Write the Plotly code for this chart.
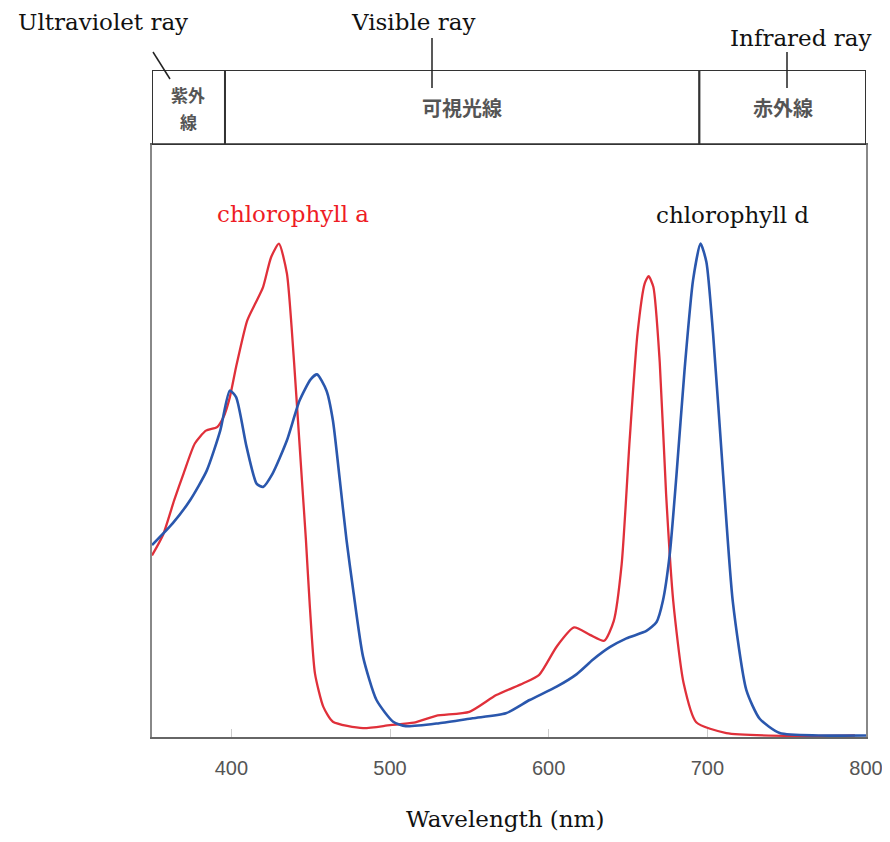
import plotly.graph_objects as go

# ---- data ----
wl_a = [350, 357, 364, 370, 377, 384, 391, 395, 399, 403, 410, 415, 420, 425, 430, 435, 438, 441,
        444.5, 447, 449.5, 452.7, 458, 464, 483, 500, 515, 529, 550, 567, 584, 594, 605, 616, 626,
        635, 641, 646, 651, 656, 660.5, 663, 666, 670, 674, 678.5, 685, 693, 712, 754, 793]
abs_a = [0.368, 0.41, 0.48, 0.535, 0.595, 0.621, 0.628, 0.648, 0.688, 0.75, 0.844, 0.878, 0.912,
         0.972, 1.0, 0.94, 0.83, 0.69, 0.52, 0.40, 0.264, 0.129, 0.061, 0.031, 0.018, 0.024, 0.029,
         0.043, 0.051, 0.085, 0.109, 0.126, 0.183, 0.222, 0.207, 0.195, 0.235, 0.35, 0.6, 0.818,
         0.919, 0.934, 0.912, 0.76, 0.493, 0.276, 0.11, 0.03, 0.008, 0.002, 0.003]

wl_d = [350, 363, 374, 384.5, 393, 399, 403, 409.6, 416, 420, 426, 435, 443, 450, 454, 460, 464,
        468.4, 472.6, 476.8, 483, 491.5, 502, 510, 531, 552, 573, 588, 605, 617.5, 628, 638.5, 649,
        661.6, 668, 672, 676.3, 680.5, 685.7, 691, 695.7, 699.4, 703.6, 710, 716, 724.6, 733, 745.6,
        770, 800]
abs_d = [0.389, 0.433, 0.48, 0.54, 0.621, 0.702, 0.689, 0.588, 0.513, 0.507, 0.534, 0.601, 0.682,
         0.725, 0.735, 0.702, 0.642, 0.52, 0.399, 0.298, 0.163, 0.075, 0.031, 0.022, 0.028, 0.038,
         0.048, 0.075, 0.102, 0.127, 0.157, 0.182, 0.2, 0.215, 0.233, 0.276, 0.37, 0.529, 0.746,
         0.926, 1.0, 0.963, 0.818, 0.529, 0.276, 0.095, 0.037, 0.008, 0.003, 0.003]

band_edges = [350, 396, 695, 800]
band_labels_jp = ["可視光線", "赤外線"]
uv_label_lines = ["紫外", "線"]
tick_vals = [400, 500, 600, 700, 800]

RED = "#e0303a"
BLUE = "#2a57ad"
SERIF = "DejaVu Serif"

fig = go.Figure()
fig.add_trace(go.Scatter(x=wl_a, y=abs_a, mode="lines", name="chlorophyll a",
                         line=dict(color=RED, width=2.3, shape="spline", smoothing=0.6),
                         xaxis="x", yaxis="y", showlegend=False))
fig.add_trace(go.Scatter(x=wl_d, y=abs_d, mode="lines", name="chlorophyll d",
                         line=dict(color=BLUE, width=2.6, shape="spline", smoothing=0.6),
                         xaxis="x", yaxis="y", showlegend=False))

OFF = 8  # page body margin
W, H = 890 - 2 * OFF, 842 - 2 * OFF
ml, mr, mt, mb = 152 - OFF, W - (866 - OFF), 70 - OFF, H - (737 - OFF)
ph = H - mt - mb
pw = W - ml - mr
main_top = (737 - 145) / (737 - 70)

fig.update_layout(
    width=W, height=H, margin=dict(l=ml, r=mr, t=mt, b=mb, autoexpand=False),
    paper_bgcolor="white", plot_bgcolor="white",
    xaxis=dict(range=[350, 800], tickvals=tick_vals, ticks="inside", ticklen=8,
               tickcolor="#cccccc", tickwidth=1, showgrid=False, zeroline=False,
               showline=True, linecolor="#666666", linewidth=2, mirror=True,
               tickfont=dict(family="Liberation Sans", size=20, color="#555555"),
               ticklabelstandoff=12, ticklabeloverflow="allow", anchor="y", automargin=False),
    yaxis=dict(range=[0, 1.2], domain=[0, main_top], showticklabels=False, ticks="",
               showgrid=False, zeroline=False, showline=True, linecolor="#888888",
               linewidth=2, mirror=True, automargin=False),
    xaxis2=dict(range=[350, 800], matches="x", anchor="y2", visible=False, automargin=False),
    yaxis2=dict(range=[0, 1], domain=[main_top, 1], visible=False, automargin=False),
)

# spectrum band cells
for i in range(len(band_edges) - 1):
    fig.add_shape(type="rect", xref="x2", yref="y2", x0=band_edges[i], x1=band_edges[i + 1],
                  y0=0, y1=1, line=dict(color="#333333", width=2), fillcolor="white", layer="above")
fig.add_shape(type="line", xref="x2", yref="y2", x0=350, x1=800, y0=0, y1=0,
              line=dict(color="#333333", width=3.5), layer="above")

jp_font = dict(family="Noto Sans CJK JP", size=20, color="#555555", weight="bold")
for i, lab in enumerate(band_labels_jp):
    fig.add_annotation(xref="x2", yref="y2", x=(band_edges[i + 1] + band_edges[i + 2]) / 2, y=0.5,
                       text=lab, showarrow=False, xanchor="center", yanchor="middle", font=jp_font)
uv_mid = (band_edges[0] + band_edges[1]) / 2
fig.add_annotation(xref="x2", yref="y2", x=uv_mid, y=0.68, text=uv_label_lines[0], showarrow=False,
                   xanchor="center", yanchor="middle",
                   font=dict(family="Noto Sans CJK JP", size=17, color="#555555", weight="bold"))
fig.add_annotation(xref="x2", yref="y2", x=uv_mid, y=0.32, text=uv_label_lines[1], showarrow=False,
                   xanchor="center", yanchor="middle",
                   font=dict(family="Noto Sans CJK JP", size=17, color="#555555", weight="bold"))


def py(ypix):
    return (H - mb - (ypix - OFF)) / ph


def px(xpix):
    return (xpix - OFF - ml) / pw


def label(x, y, text, size=24, color="#111111"):
    fig.add_annotation(xref="paper", yref="paper", x=px(x), y=py(y), text=text, showarrow=False,
                       xanchor="center", yanchor="middle",
                       font=dict(family=SERIF, size=size, color=color))


# English labels above band
label(103, 22, "Ultraviolet ray", 23)
label(413, 22, "Visible ray", 23)
label(800, 38, "Infrared ray", 23)
# leader lines
for (x0, y0, x1, y1) in [(153, 52, 170, 79), (432, 38, 432, 88), (787, 52, 787, 88)]:
    fig.add_shape(type="line", xref="paper", yref="paper", x0=px(x0), y0=py(y0), x1=px(x1), y1=py(y1),
                  line=dict(color="#222222", width=1.5))

# curve labels
label(293, 214, "chlorophyll a", 23, "#ee1c25")
label(732, 215, "chlorophyll d", 23)
# axis title
label(505, 819, "Wavelength (nm)", 23)

fig.write_html("out.html")
